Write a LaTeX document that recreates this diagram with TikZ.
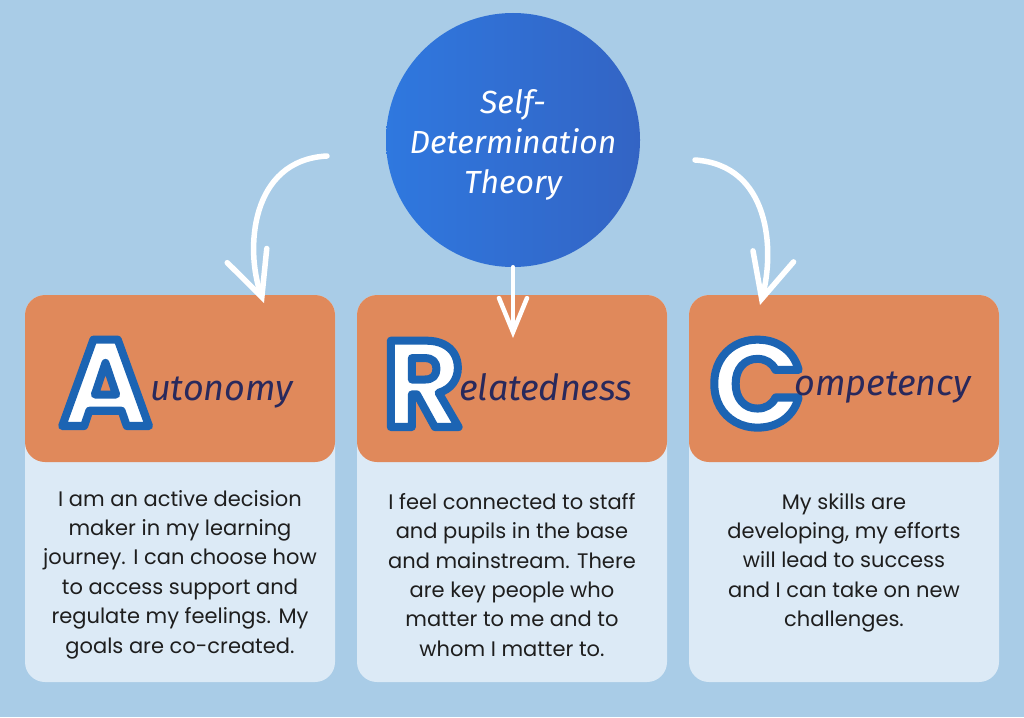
\documentclass[tikz,border=0pt]{standalone}
\usepackage{fontspec}
\setmainfont{Poppins}
\newfontfamily\handfont{Fira Sans}
\usepackage{xcolor}
\usetikzlibrary{arrows.meta,positioning,shapes}
\definecolor{skyblue}{HTML}{A9CCE7}
\definecolor{discleft}{HTML}{2F78DF}
\definecolor{discright}{HTML}{3364C4}
\definecolor{headorange}{HTML}{E0895B}
\definecolor{cardpale}{HTML}{DCEAF6}
\definecolor{wordnavy}{HTML}{29295C}
\definecolor{bodyink}{HTML}{1E1E1E}
% white letter with a blue outline (fill + stroke render mode)
\newcommand{\capletter}[1]{%
  \special{pdf:code 1 j 8 w 0.110 0.392 0.702 RG 2 Tr}#1\special{pdf:code 0 Tr}}
\tikzset{
  disc/.style={circle,minimum size=254pt,inner sep=0pt,
               left color=discleft,right color=discright},
  disctext/.style={text=white,align=center,inner sep=0pt,
                   font=\handfont\itshape\fontsize{32}{40}\selectfont},
  cardbody/.style={fill=cardpale,rounded corners=20pt,minimum width=310pt,
                   minimum height=387pt,inner sep=0pt},
  header/.style={fill=headorange,rounded corners=20pt,minimum width=310pt,
                 minimum height=167pt,inner sep=0pt},
  bigletter/.style={text=white,inner sep=0pt,anchor=base west,
                    font=\fontsize{123}{123}\selectfont\bfseries},
  headword/.style={text=wordnavy,inner sep=0pt,anchor=base west,
                   font=\handfont\itshape\fontsize{36}{36}\selectfont},
  bodytext/.style={text=bodyink,align=center,inner sep=0pt,anchor=north,
                   font=\fontsize{21}{29.4}\selectfont},
  sidearr/.style={draw=white,line width=5.5pt,line cap=round,
                  -{Straight Barb[length=44pt,width=42pt,line cap=round]}},
  midarr/.style={draw=white,line width=4.5pt,line cap=round,
                 -{Straight Barb[length=34pt,width=28pt,line cap=round]}}
}

\begin{document}
\begin{tikzpicture}[x=1pt,y=-1pt]
  \fill[skyblue] (0,0) rectangle (1024,717);
  \useasboundingbox (0,0) rectangle (1024,717);

  \node[disc] (theory) at (513,140) {};
  \node[disctext] (theoryText) at (513,145) {Self-\\Determination\\Theory};

  % the three cards
  \node[cardbody] (autoBody) at (180,488.5) {};
  \node[header] (autoHead) at (180,378.5) {};
  \node[cardbody] (relBody) at (512,488.5) {};
  \node[header] (relHead) at (512,378.5) {};
  \node[cardbody] (compBody) at (844,488.5) {};
  \node[header] (compHead) at (844,378.5) {};

  \node[bigletter] (autoLetter) at (60,426) {\capletter{A}};
  \node[headword] (autoWord) at (150,400) {utonomy};
  \node[bigletter] (relLetter) at (383,427) {\capletter{R}};
  \node[headword] (relWord) at (459,400) {elatedness};
  \node[bigletter] (compLetter) at (710,427) {\capletter{C}};
  \node[headword] (compWord) at (794,395) {ompetency};

  \node[bodytext] (autoText) at (180,490)
    {I am an active decision\\maker in my learning\\journey. I can choose how\\to access support and\\regulate my feelings. My\\goals are co-created.};
  \node[bodytext] (relText) at (512,493)
    {I feel connected to staff\\and pupils in the base\\and mainstream. There\\are key people who\\matter to me and to\\whom I matter to.};
  \node[bodytext] (compText) at (844,493)
    {My skills are\\developing, my efforts\\will lead to success\\and I can take on new\\challenges.};

  % arrows out of the disc
  \coordinate (leftStart) at (327,156);
  \coordinate (leftTip) at (264,303);
  \coordinate (rightStart) at (695,160);
  \coordinate (rightTip) at (760,305);
  \coordinate (midTip) at (513,338);
  \draw[sidearr] (leftStart) .. controls (250,160) and (245,250) .. (leftTip);
  \draw[sidearr] (rightStart) .. controls (770,165) and (775,250) .. (rightTip);
  \draw[midarr] (theory.south) -- (midTip);
\end{tikzpicture}
\end{document}
